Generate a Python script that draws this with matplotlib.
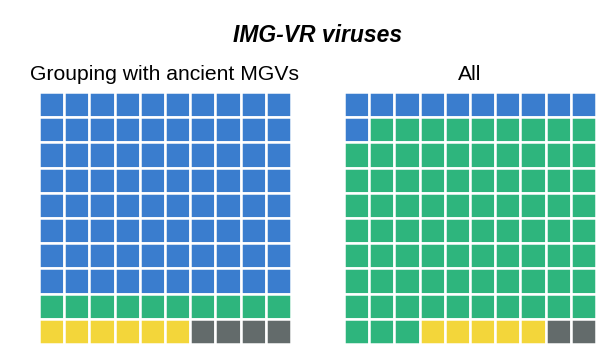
import matplotlib
matplotlib.use('Agg')
import matplotlib.pyplot as plt
from matplotlib.patches import Rectangle

plt.rcParams['font.family'] = ['Liberation Sans', 'DejaVu Sans']

categories = ['blue group', 'green group', 'yellow group', 'gray group']
colors = ['#3A7DCE', '#2EB57D', '#F3D63A', '#636B6B']
panel_titles = ['Grouping with ancient MGVs', 'All']
counts_left = [80, 10, 6, 4]
counts_right = [11, 82, 5, 2]

nrows, ncols = 10, 10

fig = plt.figure(figsize=(5.99, 3.55), dpi=100)
W, H = 599, 355

def waffle(ax, counts):
    cells = []
    for c, n in zip(colors, counts):
        cells += [c] * n
    for k, c in enumerate(cells):
        r, col = divmod(k, ncols)
        ax.add_patch(Rectangle((col, nrows - 1 - r), 1, 1, facecolor=c,
                               edgecolor='white', linewidth=1.8))
    ax.set_xlim(0, ncols)
    ax.set_ylim(0, nrows)
    ax.set_aspect('equal')
    ax.axis('off')

lefts = [39, 344]
for x0, counts, t in zip(lefts, [counts_left, counts_right], panel_titles):
    ax = fig.add_axes([x0 / W, 11 / H, 252 / W, 252 / H])
    waffle(ax, counts)
    fig.text((x0 + 126) / W, 1 - 75 / H, t, ha='center', va='center', fontsize=15.2)

fig.text(318 / W, 1 - 35 / H, 'IMG-VR viruses', ha='center', va='center',
         fontsize=16.5, fontweight='bold', fontstyle='italic')

fig.savefig('out.png', dpi=100)
